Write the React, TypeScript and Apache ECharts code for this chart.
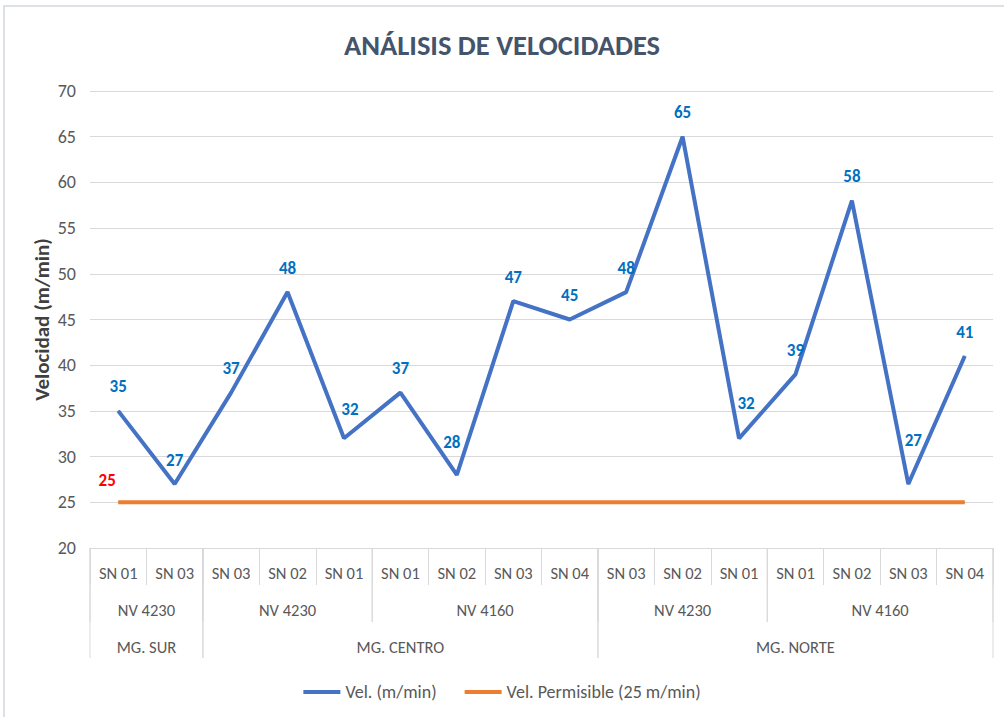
import React, { useEffect, useRef } from "react";
import * as echarts from "echarts";

const categories = ["SN 01", "SN 03", "SN 03", "SN 02", "SN 01", "SN 01", "SN 02", "SN 03", "SN 04", "SN 03", "SN 02", "SN 01", "SN 01", "SN 02", "SN 03", "SN 04"];
const velocities = [35, 27, 37, 48, 32, 37, 28, 47, 45, 48, 65, 32, 39, 58, 27, 41];
const permissible = [25, 25, 25, 25, 25, 25, 25, 25, 25, 25, 25, 25, 25, 25, 25, 25];
const nvGroups = [
  { name: "NV 4230", start: 0, end: 1 },
  { name: "NV 4230", start: 2, end: 4 },
  { name: "NV 4160", start: 5, end: 8 },
  { name: "NV 4230", start: 9, end: 11 },
  { name: "NV 4160", start: 12, end: 15 },
];
const mgGroups = [
  { name: "MG. SUR", start: 0, end: 1 },
  { name: "MG. CENTRO", start: 2, end: 8 },
  { name: "MG. NORTE", start: 9, end: 15 },
];
const yTicks = { min: 20, max: 70, interval: 5 };
const seriesNames = ["Vel. (m/min)", "Vel. Permisible (25 m/min)"];
const titleText = "ANÁLISIS DE VELOCIDADES";
const yAxisName = "Velocidad (m/min)";

// label nudges (style only) for crowded labels
const labelNudge: Record<number, [number, number]> = {
  4: [6, -5],
  6: [-5, -8],
  11: [7, -11],
  14: [5, -20],
};

const FONT = "'Liberation Sans Narrow', Carlito, 'Open Sans', sans-serif";
const GRID_COLOR = "#d9d9d9";
const TEXT_COLOR = "#595959";

function groupRenderer(groups: { name: string; start: number; end: number }[], lineLen: number, textOffset: number) {
  return (params: any, api: any) => {
    const g = groups[params.dataIndex];
    const bw = api.size([1, 0])[0];
    const l = api.coord([g.start, yTicks.min]);
    const r = api.coord([g.end, yTicks.min]);
    const x0 = l[0] - bw / 2;
    const x1 = r[0] + bw / 2;
    const y0 = l[1];
    return {
      type: "group",
      children: [
        { type: "line", shape: { x1: x0, y1: y0, x2: x0, y2: y0 + lineLen }, style: { stroke: GRID_COLOR, lineWidth: 1 } },
        { type: "line", shape: { x1: x1, y1: y0, x2: x1, y2: y0 + lineLen }, style: { stroke: GRID_COLOR, lineWidth: 1 } },
        {
          type: "text",
          style: {
            text: g.name,
            x: (x0 + x1) / 2,
            y: y0 + textOffset,
            align: "center",
            verticalAlign: "middle",
            fill: TEXT_COLOR,
            fontSize: 16.5,
            fontFamily: FONT,
          },
        },
      ],
    };
  };
}

export default function App() {
  const ref = useRef<HTMLDivElement>(null);
  useEffect(() => {
    if (!ref.current) return;
    const chart = echarts.init(ref.current, null, { renderer: "svg" });
    chart.setOption({
      animation: false,
      backgroundColor: "#ffffff",
      title: {
        text: titleText,
        left: "center",
        top: 26,
        textStyle: { fontFamily: FONT, fontSize: 28.5, fontWeight: "bold", color: "#44546a" },
      },
      graphic: [
        {
          type: "rect",
          shape: { x: 4, y: 6, width: 1100, height: 800 },
          style: { fill: "none", stroke: "#dde1e6", lineWidth: 2 },
          silent: true,
        },
      ],
      legend: {
        data: seriesNames,
        top: 678,
        left: "center",
        icon: "rect",
        itemWidth: 37,
        itemHeight: 4,
        itemGap: 28,
        textStyle: { fontFamily: FONT, fontSize: 18, color: TEXT_COLOR },
      },
      grid: { left: 90, right: 11, top: 91, bottom: 169, containLabel: false },
      xAxis: {
        type: "category",
        data: categories,
        boundaryGap: true,
        axisLine: { show: true, lineStyle: { color: GRID_COLOR, width: 1 } },
        axisTick: { show: true, interval: 0, length: 37, lineStyle: { color: GRID_COLOR, width: 1 } },
        axisLabel: { interval: 0, margin: 16, fontFamily: FONT, fontSize: 16.5, color: TEXT_COLOR },
      },
      yAxis: {
        type: "value",
        min: yTicks.min,
        max: yTicks.max,
        interval: yTicks.interval,
        name: yAxisName,
        nameLocation: "middle",
        nameRotate: 90,
        nameGap: 38,
        nameMoveOverlap: false,
        nameTextStyle: { fontFamily: FONT, fontSize: 21, fontWeight: "bold", color: "#404040" },
        axisLine: { show: false },
        axisTick: { show: false },
        axisLabel: { margin: 14, fontFamily: FONT, fontSize: 18, color: TEXT_COLOR },
        splitLine: { lineStyle: { color: GRID_COLOR, width: 1 } },
      },
      series: [
        {
          name: seriesNames[0],
          type: "line",
          data: velocities.map((v, i) => ({
            value: v,
            label: labelNudge[i] ? { offset: labelNudge[i] } : undefined,
          })),
          symbol: "circle",
          symbolSize: 1,
          lineStyle: { color: "#4472c4", width: 4 },
          itemStyle: { color: "#4472c4" },
          label: {
            show: true,
            position: "top",
            distance: 15,
            fontFamily: FONT,
            fontSize: 17,
            fontWeight: "bold",
            color: "#0070c0",
          },
          z: 3,
        },
        {
          name: seriesNames[1],
          type: "line",
          data: permissible.map((v, i) => ({
            value: v,
            label: i === 0 ? { show: true } : { show: false },
          })),
          symbol: "circle",
          symbolSize: 1,
          lineStyle: { color: "#ed7d31", width: 4 },
          itemStyle: { color: "#ed7d31" },
          label: {
            show: false,
            position: "top",
            distance: 13,
            offset: [-11, 0],
            fontFamily: FONT,
            fontSize: 17,
            fontWeight: "bold",
            color: "#ff0000",
          },
          z: 2,
        },
        {
          type: "custom",
          silent: true,
          clip: false,
          data: nvGroups.map((g) => [g.start, yTicks.min]),
          encode: { x: 0, y: 1 },
          renderItem: groupRenderer(nvGroups, 74, 62),
          z: 1,
        },
        {
          type: "custom",
          silent: true,
          clip: false,
          data: mgGroups.map((g) => [g.start, yTicks.min]),
          encode: { x: 0, y: 1 },
          renderItem: groupRenderer(mgGroups, 110, 99),
          z: 1,
        },
      ],
    });
    return () => chart.dispose();
  }, []);
  return <div ref={ref} style={{ position: "absolute", left: 0, top: 0, width: 1004, height: 717 }} />;
}
